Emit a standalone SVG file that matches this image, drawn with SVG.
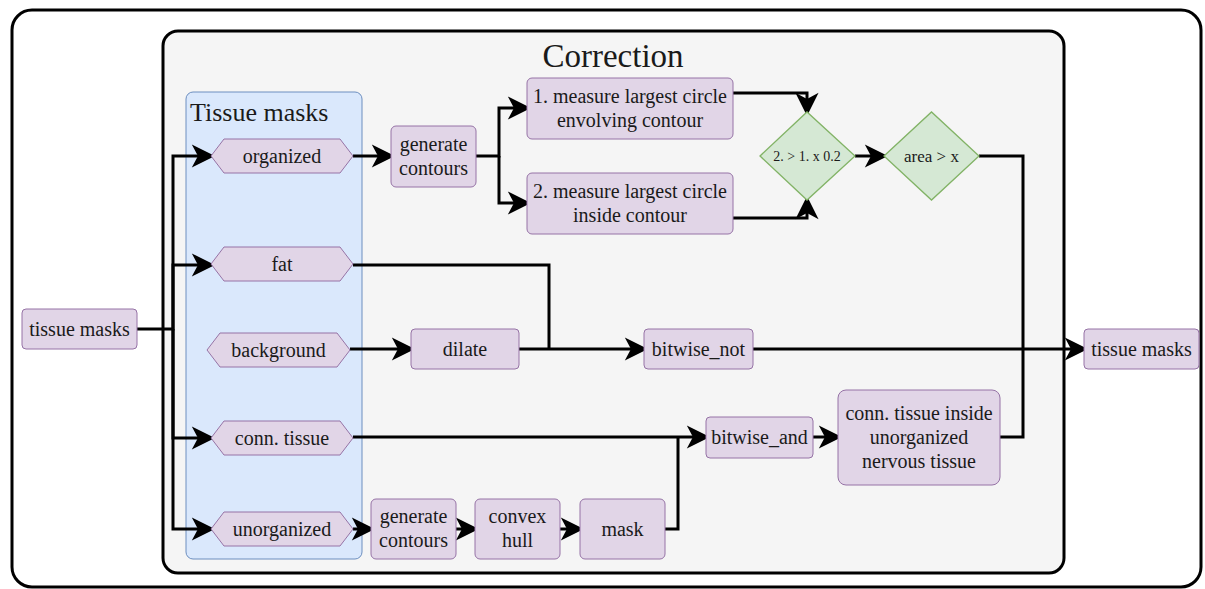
<svg xmlns="http://www.w3.org/2000/svg" width="1205" height="589" viewBox="0 0 1205 589">
  <style>
    text { font-family: 'Liberation Serif', 'DejaVu Serif', serif; fill: #1a1a1a; text-anchor: middle; }
    .t { font-size: 20px; }
    .proc { fill: #e1d5e7; stroke: #9673a6; stroke-width: 1; }
    .dec { fill: #d5e8d4; stroke: #82b366; stroke-width: 1.3; }
    .edge { fill: none; stroke: #000; stroke-width: 3; }
    .arrow { marker-end: url(#head); }
  </style>
  <defs>
    <marker id="head" markerUnits="userSpaceOnUse" markerWidth="30" markerHeight="30" viewBox="-10 -10 22 20" refX="0" refY="0" orient="auto" overflow="visible">
      <path d="M11,0 L-6,-8.5 L-1.5,0 L-6,8.5 Z" fill="#000"/>
    </marker>
  </defs>

  <!-- outer frame -->
  <rect id="frame" x="12" y="10" width="1189" height="577" rx="20" fill="#fff" stroke="#000" stroke-width="3"/>

  <!-- correction container -->
  <g id="correction">
    <rect x="163" y="31" width="901" height="542" rx="15" fill="#f5f5f5" stroke="#000" stroke-width="3"/>
    <text x="613" y="67" font-family="Liberation Serif, serif" style="font-size:33px">Correction</text>
  </g>

  <!-- tissue masks group -->
  <g id="tissue-masks-group">
    <rect x="186" y="92" width="176" height="467" rx="7" fill="#dae8fc" stroke="#6c8ebf" stroke-width="1"/>
    <text x="190" y="121" style="font-size:26px;text-anchor:start">Tissue masks</text>
  </g>

  <!-- connectors -->
  <g id="connectors">
    <path class="edge arrow" d="M137,329 H173 V156 H200"/>
    <path class="edge arrow" d="M173,329 V265 H200"/>
    <path class="edge arrow" d="M173,329 V438 H200"/>
    <path class="edge arrow" d="M173,329 V529 H200"/>
    <path class="edge arrow" d="M353,156 H380"/>
    <path class="edge arrow" d="M476,156 H499 V108 H516"/>
    <path class="edge arrow" d="M499,156 V203 H516"/>
    <path class="edge arrow" d="M733,93 H807 V101"/>
    <path class="edge arrow" d="M733,218 H807 V211"/>
    <path class="edge arrow" d="M855,156 H873"/>
    <path class="edge" d="M979,156 H1023 V437 H1000"/>
    <path class="edge" d="M353,265 H549 V349"/>
    <path class="edge arrow" d="M350,349 H400"/>
    <path class="edge arrow" d="M519,349 H633"/>
    <path class="edge arrow" d="M753,349 H1073"/>
    <path class="edge arrow" d="M353,437 H695"/>
    <path class="edge arrow" d="M353,529 H360"/>
    <path class="edge arrow" d="M456,529 H464"/>
    <path class="edge arrow" d="M560,529 H569"/>
    <path class="edge" d="M665,529 H678 V437"/>
    <path class="edge arrow" d="M813,437 H827"/>
  </g>

  <!-- nodes -->
  <g id="in-masks">
    <rect class="proc" x="22" y="309" width="115" height="40" rx="4"/>
    <text class="t" x="79.5" y="336">tissue masks</text>
  </g>
  <g id="organized">
    <polygon class="proc" points="211,156 224,139 340,139 353,156 340,173 224,173"/>
    <text class="t" x="282" y="163">organized</text>
  </g>
  <g id="fat">
    <polygon class="proc" points="211,264 224,247 340,247 353,264 340,281 224,281"/>
    <text class="t" x="282" y="271">fat</text>
  </g>
  <g id="background">
    <polygon class="proc" points="207,350 220,333 337,333 350,350 337,367 220,367"/>
    <text class="t" x="278.5" y="357">background</text>
  </g>
  <g id="conn-tissue">
    <polygon class="proc" points="211,438 224,421 340,421 353,438 340,455 224,455"/>
    <text class="t" x="282" y="445">conn. tissue</text>
  </g>
  <g id="unorganized">
    <polygon class="proc" points="211,529 224,512 340,512 353,529 340,546 224,546"/>
    <text class="t" x="282" y="536">unorganized</text>
  </g>
  <g id="gen-contours-1">
    <rect class="proc" x="391" y="126" width="85" height="61" rx="5"/>
    <text class="t" x="433.5" y="151">generate</text>
    <text class="t" x="433.5" y="175">contours</text>
  </g>
  <g id="circle-envolving">
    <rect class="proc" x="527" y="78" width="206" height="61" rx="5"/>
    <text class="t" x="630" y="103">1. measure largest circle</text>
    <text class="t" x="630" y="127">envolving contour</text>
  </g>
  <g id="circle-inside">
    <rect class="proc" x="527" y="173" width="206" height="61" rx="5"/>
    <text class="t" x="630" y="198">2. measure largest circle</text>
    <text class="t" x="630" y="222">inside contour</text>
  </g>
  <g id="ratio-check">
    <polygon class="dec" points="760,156 807,112 855,156 807,200"/>
    <text x="807" y="161" style="font-size:14px">2. &gt; 1. x 0.2</text>
  </g>
  <g id="area-check">
    <polygon class="dec" points="884,156 931.5,112 979,156 931.5,200"/>
    <text x="931.5" y="162" style="font-size:17px">area &gt; x</text>
  </g>
  <g id="dilate">
    <rect class="proc" x="411" y="329" width="108" height="40" rx="4"/>
    <text class="t" x="465" y="356">dilate</text>
  </g>
  <g id="bitwise-not">
    <rect class="proc" x="644" y="329" width="109" height="40" rx="4"/>
    <text class="t" x="698.5" y="356">bitwise_not</text>
  </g>
  <g id="out-masks">
    <rect class="proc" x="1084" y="329" width="115" height="40" rx="4"/>
    <text class="t" x="1141.5" y="356">tissue masks</text>
  </g>
  <g id="bitwise-and">
    <rect class="proc" x="706" y="417" width="107" height="41" rx="4"/>
    <text class="t" x="759.5" y="444">bitwise_and</text>
  </g>
  <g id="conn-inside">
    <rect class="proc" x="838" y="390" width="162" height="95" rx="8"/>
    <text class="t" x="919" y="420">conn. tissue inside</text>
    <text class="t" x="919" y="444">unorganized</text>
    <text class="t" x="919" y="468">nervous tissue</text>
  </g>
  <g id="gen-contours-2">
    <rect class="proc" x="371" y="499" width="85" height="60" rx="5"/>
    <text class="t" x="413.5" y="523">generate</text>
    <text class="t" x="413.5" y="547">contours</text>
  </g>
  <g id="convex-hull">
    <rect class="proc" x="475" y="499" width="85" height="60" rx="5"/>
    <text class="t" x="517.5" y="523">convex</text>
    <text class="t" x="517.5" y="547">hull</text>
  </g>
  <g id="mask">
    <rect class="proc" x="580" y="499" width="85" height="60" rx="5"/>
    <text class="t" x="622.5" y="536">mask</text>
  </g>
</svg>
